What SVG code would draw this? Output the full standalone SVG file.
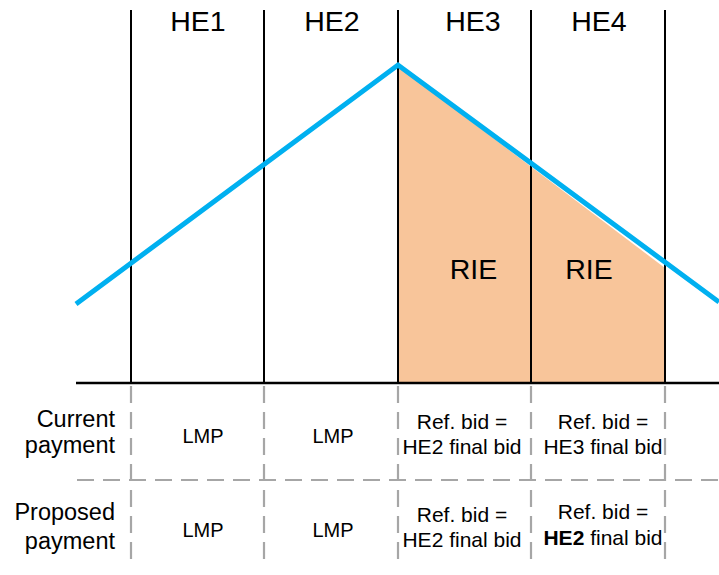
<svg xmlns="http://www.w3.org/2000/svg" width="719" height="575" viewBox="0 0 719 575">
<style>
.t{font-family:"Liberation Sans",Arial,sans-serif;fill:#000}
.he{font-size:28.5px;text-anchor:middle}
.sm{font-size:21px;text-anchor:middle}
.lmp{font-size:20px;text-anchor:middle}
.lb{font-size:23.5px;text-anchor:end}
.vl{stroke:#000;stroke-width:2;fill:none}
.dl{stroke:#A6A6A6;stroke-width:2.2;stroke-dasharray:17 9;fill:none}
</style>
<rect width="719" height="575" fill="#fff"/>
<g id="rie-area">
<polygon points="398,66 665,268 665,383 398,383" fill="#F8C59A"/>
</g>
<g id="grid">
<line class="vl" x1="131" y1="10" x2="131" y2="383"/>
<line class="vl" x1="264" y1="10" x2="264" y2="383"/>
<line class="vl" x1="398" y1="10" x2="398" y2="383"/>
<line class="vl" x1="531" y1="10" x2="531" y2="383"/>
<line class="vl" x1="665" y1="10" x2="665" y2="383"/>
<line x1="76" y1="383" x2="719" y2="383" stroke="#000" stroke-width="2.5"/>
</g>
<g id="connectors">
<polyline points="76,304 398,65 719,302" fill="none" stroke="#00B0F0" stroke-width="5" stroke-linejoin="miter"/>
</g>
<g id="table">
<line class="dl" x1="131" y1="386" x2="131" y2="566"/>
<line class="dl" x1="264" y1="386" x2="264" y2="566"/>
<line class="dl" x1="398" y1="386" x2="398" y2="566"/>
<line class="dl" x1="531" y1="386" x2="531" y2="566"/>
<line class="dl" x1="665" y1="386" x2="665" y2="566"/>
<line class="dl" x1="77" y1="480" x2="719" y2="480"/>
</g>
<g id="labels">
<text class="t he" x="198" y="31">HE1</text>
<text class="t he" x="332" y="31">HE2</text>
<text class="t he" x="473" y="31">HE3</text>
<text class="t he" x="599" y="31">HE4</text>
<text class="t he" x="473.5" y="279">RIE</text>
<text class="t he" x="589" y="279">RIE</text>
</g>
<g id="row-current">
<text class="t lb" x="115" y="427">Current</text>
<text class="t lb" x="115" y="453">payment</text>
<text class="t lmp" x="203" y="443">LMP</text>
<text class="t lmp" x="333" y="443">LMP</text>
<text class="t sm" x="462" y="429">Ref. bid =</text>
<text class="t sm" x="462" y="454">HE2 final bid</text>
<text class="t sm" x="603" y="429">Ref. bid =</text>
<text class="t sm" x="603" y="454">HE3 final bid</text>
</g>
<g id="row-proposed">
<text class="t lb" x="115" y="520">Proposed</text>
<text class="t lb" x="115" y="549">payment</text>
<text class="t lmp" x="203" y="537">LMP</text>
<text class="t lmp" x="333" y="537">LMP</text>
<text class="t sm" x="462" y="522">Ref. bid =</text>
<text class="t sm" x="462" y="547">HE2 final bid</text>
<text class="t sm" x="603" y="519">Ref. bid =</text>
<text class="t sm" x="603" y="545"><tspan font-weight="bold">HE2</tspan> final bid</text>
</g>
</svg>
